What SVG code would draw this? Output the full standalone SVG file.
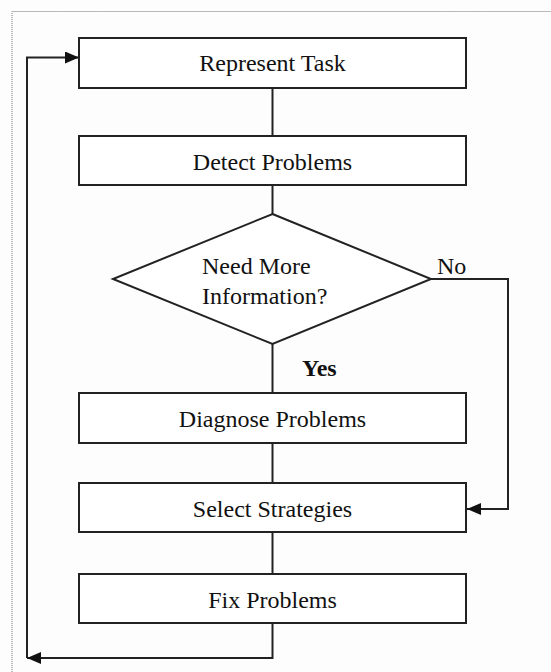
<svg xmlns="http://www.w3.org/2000/svg" width="551" height="672" viewBox="0 0 551 672">
<style>
.box{fill:#ffffff;stroke:#222;stroke-width:2}
.ln{fill:none;stroke:#222;stroke-width:2}
.t{font-family:'Liberation Serif','Times New Roman','DejaVu Serif',serif;font-size:24px;fill:#111}
.c{text-anchor:middle}
.b{font-weight:bold}
</style>
<defs>
<marker id="ah" viewBox="0 0 14 12" refX="14" refY="6" markerWidth="14" markerHeight="12" markerUnits="userSpaceOnUse" orient="auto">
<path d="M0,0 L14,6 L0,12 Z" fill="#111"/>
</marker>
</defs>
<rect x="0" y="0" width="551" height="672" fill="#fdfdfd"/>
<path d="M12,690 V11.5 H560" fill="none" stroke="#777" stroke-width="1" stroke-dasharray="1,1"/>
<g id="connectors">
<line class="ln" x1="272.5" y1="88" x2="272.5" y2="136"/>
<line class="ln" x1="272.5" y1="185" x2="272.5" y2="214"/>
<line class="ln" x1="272.5" y1="344" x2="272.5" y2="393"/>
<line class="ln" x1="272.5" y1="443" x2="272.5" y2="483"/>
<line class="ln" x1="272.5" y1="532" x2="272.5" y2="574"/>
<polyline class="ln" points="431,279 508,279 508,509 467,509" marker-end="url(#ah)"/>
<polyline class="ln" points="272.5,623 272.5,658 27,658" marker-end="url(#ah)"/>
<polyline class="ln" points="27,658 27,57.5 79,57.5" marker-end="url(#ah)"/>
<text class="t" x="437" y="274" font-family="Liberation Serif, serif">No</text>
<text class="t b" x="302" y="376" font-family="Liberation Serif, serif">Yes</text>
</g>
<g id="represent">
<rect class="box" x="79" y="38" width="387" height="50"/>
<text class="t c" x="272.5" y="71" font-family="Liberation Serif, serif">Represent Task</text>
</g>
<g id="detect">
<rect class="box" x="79" y="136" width="387" height="49"/>
<text class="t c" x="272.5" y="170" font-family="Liberation Serif, serif">Detect Problems</text>
</g>
<g id="decision">
<polygon class="box" points="272.5,214 431,279 272.5,344 113,279"/>
<text class="t" x="202" y="274" font-family="Liberation Serif, serif">Need More</text>
<text class="t" x="202" y="304" font-family="Liberation Serif, serif">Information?</text>
</g>
<g id="diagnose">
<rect class="box" x="79" y="393" width="387" height="50"/>
<text class="t c" x="272.5" y="427" font-family="Liberation Serif, serif">Diagnose Problems</text>
</g>
<g id="select">
<rect class="box" x="79" y="483" width="387" height="49"/>
<text class="t c" x="272.5" y="517" font-family="Liberation Serif, serif">Select Strategies</text>
</g>
<g id="fix">
<rect class="box" x="79" y="574" width="387" height="49"/>
<text class="t c" x="272.5" y="608" font-family="Liberation Serif, serif">Fix Problems</text>
</g>
</svg>
